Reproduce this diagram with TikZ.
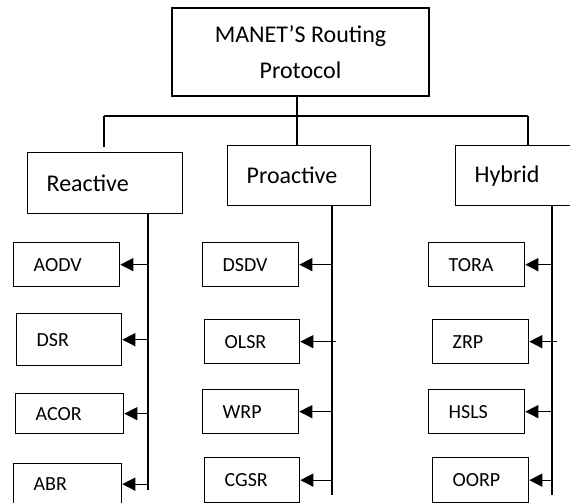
\documentclass[tikz,border=0pt]{standalone}
\usepackage{fontspec}
\setmainfont{Carlito}
\usetikzlibrary{arrows.meta}
\tikzset{
  rootbox/.style={draw, align=center, minimum width=257pt, minimum height=88pt, inner sep=0pt, font=\fontsize{24}{36}\selectfont},
  classbox/.style={draw, anchor=north west, inner xsep=19pt, inner ysep=0pt, align=left, font=\fontsize{24}{29}\selectfont},
  protobox/.style={draw, anchor=north west, inner xsep=20pt, inner ysep=0pt, align=left, font=\fontsize{20}{24}\selectfont},
  feed/.style={-{Triangle[length=13pt,width=13pt]}},
}

\begin{document}
\begin{tikzpicture}[x=1pt, y=-1pt, line width=1.3pt]
  \useasboundingbox (0,0) rectangle (570,503);
  \clip (0,0) rectangle (570,503);

  % Draw the root
  \node[rootbox] (manet) at (300.5,52) {MANET’S Routing\\Protocol};

  % Draw the three families
  \node[classbox, text width=117pt, minimum height=61pt] (react) at (27,152) {Reactive};
  \node[classbox, text width=105pt, minimum height=60pt] (pro) at (227,145) {Proactive};
  \node[classbox, text width=105pt, minimum height=60pt] (hyb) at (455,145) {Hybrid};

  % Branches from the root
  \coordinate (fork) at (297,116);
  \coordinate (forkL) at (104,116);
  \coordinate (forkR) at (528,116);
  \coordinate (forkEnd) at (104,147);
  \draw (fork |- manet.south) -- (fork);
  \draw (forkL) -- (forkR);
  \draw (forkL) -- (forkEnd);
  \draw (fork) -- (fork |- pro.north);
  \draw (forkR) -- (forkR |- hyb.north);

  % Reactive protocols
  \foreach \name/\txt/\x/\y/\w/\h in {aodv/AODV/13/242/66/44, dsr/DSR/16/313/65/52,
      acor/ACOR/15/393/68/40, abr/ABR/13/463/68/41} {
    \node[protobox, text width=\w pt, minimum height=\h pt] (\name) at (\x,\y) {\txt};
  }

  % Proactive protocols
  \foreach \name/\txt/\x/\y/\w/\h in {dsdv/DSDV/202/242/56/44, olsr/OLSR/204/319/55/44,
      wrp/WRP/202/389/56/44, cgsr/CGSR/204/457/55/45} {
    \node[protobox, text width=\w pt, minimum height=\h pt] (\name) at (\x,\y) {\txt};
  }

  % Hybrid protocols
  \foreach \name/\txt/\x/\y/\w/\h in {tora/TORA/428/242/56/44, zrp/ZRP/432/319/56/44,
      hsls/HSLS/428/389/56/44, oorp/OORP/432/457/56/45} {
    \node[protobox, text width=\w pt, minimum height=\h pt] (\name) at (\x,\y) {\txt};
  }

  % Vertical lines under each family
  \coordinate (rbus) at (148,490);
  \coordinate (pbus) at (332,495);
  \coordinate (hbus) at (552,495);
  \draw (rbus |- react.south) -- (rbus);
  \draw (pbus |- pro.south) -- (pbus);
  \draw (hbus |- hyb.south) -- (hbus);

  % Arrows into the protocols
  \foreach \p in {aodv,dsr,acor,abr}
    \draw[feed] (rbus |- \p.east) -- (\p.east);
  \foreach \p in {dsdv,wrp,cgsr}
    \draw[feed] (pbus |- \p.east) -- (\p.east);
  \draw[feed] ([xshift=4pt]pbus |- olsr.east) -- (olsr.east);
  \foreach \p in {tora,hsls,oorp}
    \draw[feed] (hbus |- \p.east) -- (\p.east);
  \draw[feed] ([xshift=5pt]hbus |- zrp.east) -- (zrp.east);
\end{tikzpicture}
\end{document}
